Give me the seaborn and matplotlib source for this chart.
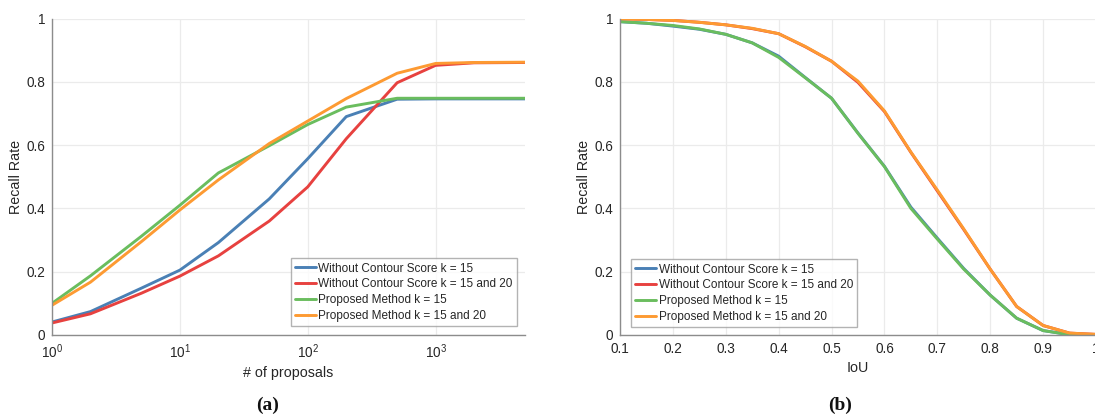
import numpy as np
import pandas as pd
import matplotlib
matplotlib.use("Agg")
import matplotlib.pyplot as plt
import seaborn as sns

# ---------------- data ----------------
series_names = [
    "Without Contour Score k = 15",
    "Without Contour Score k = 15 and 20",
    "Proposed Method k = 15",
    "Proposed Method k = 15 and 20",
]
series_colors = ["#4a80b5", "#e7413f", "#6abd5e", "#fd9a32"]

proposals = [1, 2, 5, 10, 20, 50, 100, 200, 500, 1000, 2000, 5000]
recall_a_blue = [0.041, 0.074, 0.148, 0.205, 0.292, 0.430, 0.557, 0.690, 0.745, 0.746, 0.746, 0.746]
recall_a_red = [0.038, 0.067, 0.132, 0.186, 0.250, 0.360, 0.468, 0.620, 0.797, 0.852, 0.860, 0.861]
recall_a_green = [0.100, 0.187, 0.312, 0.410, 0.512, 0.598, 0.665, 0.720, 0.748, 0.748, 0.748, 0.748]
recall_a_orange = [0.094, 0.167, 0.295, 0.395, 0.490, 0.605, 0.676, 0.747, 0.827, 0.858, 0.861, 0.862]

iou = [0.10, 0.15, 0.20, 0.25, 0.30, 0.35, 0.40, 0.45, 0.50, 0.55,
       0.60, 0.65, 0.70, 0.75, 0.80, 0.85, 0.90, 0.95, 1.00]
recall_b_blue = [0.990, 0.985, 0.976, 0.966, 0.950, 0.923, 0.881, 0.814, 0.748, 0.638,
                 0.533, 0.404, 0.306, 0.210, 0.126, 0.053, 0.014, 0.001, 0.000]
recall_b_red = [0.999, 0.997, 0.994, 0.988, 0.980, 0.968, 0.952, 0.911, 0.865, 0.798,
                0.706, 0.577, 0.455, 0.333, 0.208, 0.090, 0.030, 0.006, 0.002]
recall_b_green = [0.990, 0.985, 0.978, 0.967, 0.950, 0.923, 0.877, 0.813, 0.748, 0.637,
                  0.532, 0.400, 0.303, 0.208, 0.126, 0.053, 0.014, 0.001, 0.000]
recall_b_orange = [0.999, 0.997, 0.994, 0.988, 0.980, 0.969, 0.952, 0.912, 0.865, 0.802,
                   0.708, 0.578, 0.458, 0.335, 0.208, 0.090, 0.030, 0.006, 0.002]

xticks_a = [1, 10, 100, 1000]
xticks_b = [0.1, 0.2, 0.3, 0.4, 0.5, 0.6, 0.7, 0.8, 0.9, 1.0]
xticklabels_b = ["0.1", "0.2", "0.3", "0.4", "0.5", "0.6", "0.7", "0.8", "0.9", "1"]
yticks = [0, 0.2, 0.4, 0.6, 0.8, 1.0]
yticklabels = ["0", "0.2", "0.4", "0.6", "0.8", "1"]

# ---------------- style ----------------
sns.set_style("white")
plt.rcParams["font.family"] = ["Liberation Sans", "DejaVu Sans"]
plt.rcParams["mathtext.fontset"] = "custom"
plt.rcParams["mathtext.rm"] = "Liberation Sans"
plt.rcParams["mathtext.it"] = "Liberation Sans"

df_a = pd.DataFrame({
    "x": proposals * 4,
    "y": recall_a_blue + recall_a_red + recall_a_green + recall_a_orange,
    "series": sum([[n] * len(proposals) for n in series_names], []),
})
df_b = pd.DataFrame({
    "x": iou * 4,
    "y": recall_b_blue + recall_b_red + recall_b_green + recall_b_orange,
    "series": sum([[n] * len(iou) for n in series_names], []),
})
palette = dict(zip(series_names, series_colors))

fig = plt.figure(figsize=(10.95, 4.18), dpi=100)
W, H = 1095, 418
ax_a = fig.add_axes([52 / W, (H - 335) / H, (525 - 52) / W, (335 - 18.5) / H])
ax_b = fig.add_axes([620 / W, (H - 335) / H, (1096 - 620) / W, (335 - 18.5) / H])

axis_gray = "#8c8c8c"
text_col = "#262626"

for ax, df in [(ax_a, df_a), (ax_b, df_b)]:
    sns.lineplot(data=df, x="x", y="y", hue="series", hue_order=series_names,
                 palette=palette, linewidth=2.1, ax=ax, legend=True)
    ax.set_ylim(0, 1)
    ax.set_yticks(yticks)
    ax.set_yticklabels(yticklabels)
    ax.grid(True, color="#ebebeb", linewidth=0.9)
    ax.set_axisbelow(True)
    for s in ["top", "right"]:
        ax.spines[s].set_visible(False)
    for s in ["left", "bottom"]:
        ax.spines[s].set_color(axis_gray)
        ax.spines[s].set_linewidth(1.0)
    ax.tick_params(axis="both", which="major", direction="in", length=4, width=0.8,
                   color=axis_gray, labelsize=9.8, labelcolor=text_col, pad=5)
    ax.tick_params(axis="both", which="minor", length=0)
    ax.set_ylabel("Recall Rate", fontsize=10.3, color=text_col, labelpad=2)

ax_a.set_xscale("log")
ax_a.set_xlim(1, 5000)
ax_a.set_xticks(xticks_a)
ax_a.xaxis.set_minor_locator(matplotlib.ticker.NullLocator())
ax_a.set_xlabel("# of proposals", fontsize=10.3, color=text_col, labelpad=4)

ax_b.set_xlim(0.1, 1.0)
ax_b.set_xticks(xticks_b)
ax_b.set_xticklabels(xticklabels_b)
ax_b.set_xlabel("IoU", fontsize=10.3, color=text_col, labelpad=4)

leg_kw = dict(fontsize=8.5, handlelength=1.75, handletextpad=0.25, borderpad=0.35,
              labelspacing=0.32, frameon=True, fancybox=False, borderaxespad=0.0)

h, l = ax_a.get_legend_handles_labels()
leg = ax_a.legend(h, l, loc="lower right",
                  bbox_to_anchor=(517 / W, (H - 326) / H),
                  bbox_transform=fig.transFigure, **leg_kw)
leg.get_frame().set_edgecolor("#a0a0a0")
leg.get_frame().set_linewidth(1.0)
for t in leg.get_texts():
    t.set_color(text_col)

h, l = ax_b.get_legend_handles_labels()
leg = ax_b.legend(h, l, loc="lower left",
                  bbox_to_anchor=(631 / W, (H - 327) / H),
                  bbox_transform=fig.transFigure, **leg_kw)
leg.get_frame().set_edgecolor("#a0a0a0")
leg.get_frame().set_linewidth(1.0)
for t in leg.get_texts():
    t.set_color(text_col)

fig.text(268 / W, (H - 405) / H, "(a)", ha="center", va="center", fontsize=14,
         fontweight="bold", family=["Liberation Serif", "DejaVu Serif"], color="#111111")
fig.text(840 / W, (H - 405) / H, "(b)", ha="center", va="center", fontsize=14,
         fontweight="bold", family=["Liberation Serif", "DejaVu Serif"], color="#111111")

fig.savefig("out.png", dpi=100)
